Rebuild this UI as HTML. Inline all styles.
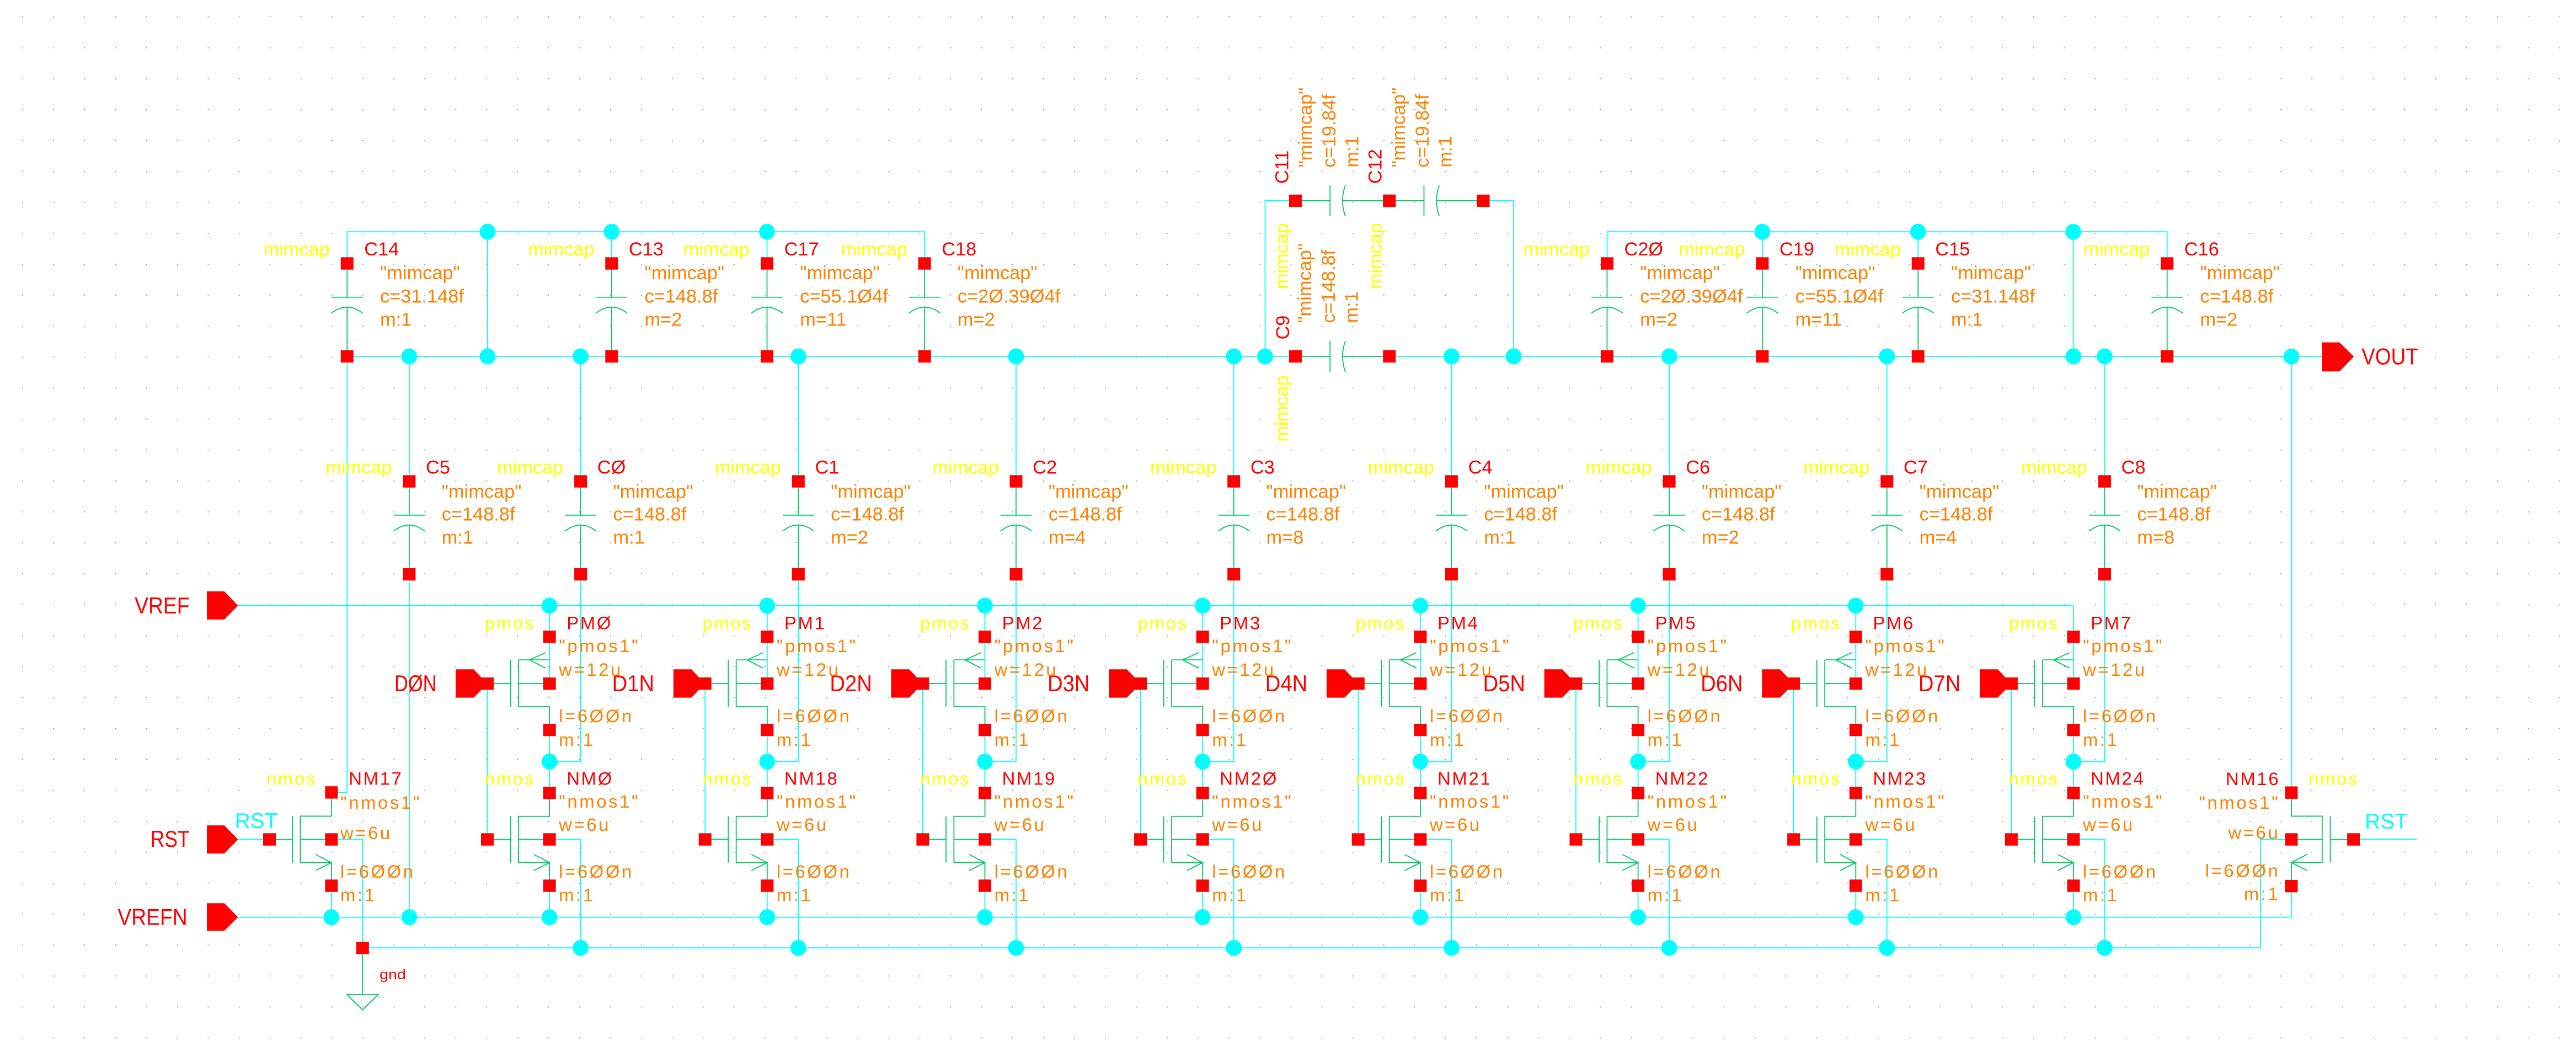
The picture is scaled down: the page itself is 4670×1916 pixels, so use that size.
<!DOCTYPE html>
<html><head><meta charset="utf-8"><style>
html,body{margin:0;padding:0;background:#fff;}
svg{display:block;}
text{font-family:"Liberation Sans",sans-serif;}
.y{fill:#ffff00;font-size:11.5px;}
.r{fill:#ff0000;font-size:11.5px;}
.o{fill:#ff8000;font-size:11.5px;}
.ty{fill:#ffff00;font-size:11px;letter-spacing:0.9px;}
.tr{fill:#ff0000;font-size:11px;letter-spacing:0.9px;}
.to{fill:#ff8000;font-size:11px;letter-spacing:1.2px;}
.pl{fill:#ff0000;font-size:14px;}
.cy{fill:#00ffff;font-size:13px;}
.cw{stroke:#00ffff;stroke-width:0.6;fill:none;}
.gw{stroke:#00c864;stroke-width:0.6;fill:none;}
</style></head><body>
<svg width="4670" height="1916" viewBox="0 0 1563 641.2" preserveAspectRatio="none" xmlns="http://www.w3.org/2000/svg">
<defs>
<pattern id="grid" x="13.45" y="9.9" width="18.77" height="18.77" patternUnits="userSpaceOnUse">
<rect x="0" y="0" width="0.6" height="0.6" fill="#8a8aa0"/>
</pattern>
<rect id="sq" x="-3.85" y="-3.75" width="7.7" height="7.5" fill="#ff0000"/>
<ellipse id="dt" rx="4.8" ry="4.85" fill="#00ffff"/>
<g id="vcap">
<path class="gw" d="M0 0 V20.5 M-9.5 20.5 H9.5 M-9.5 30.2 Q0 22.8 9.5 30.2 M0 26.5 V56.4"/>
<use href="#sq" x="0" y="0"/><use href="#sq" x="0" y="56.4"/>
</g>
<g id="hcap">
<path class="gw" d="M0 0 H21 M21 -9.4 V9.4 M30.3 -9.4 Q26.9 0 30.3 9.4 M28.6 0 H57"/>
<use href="#sq" x="0" y="0"/><use href="#sq" x="57" y="0"/>
</g>
<g id="colg">
<path class="cw" d="M-18.9 367.4 V414.7 M-18.9 442.8 V462 H0 V348.6 M0 216.2 V292 M-18.9 462 V481 M-18.9 537.3 V556.4 M-18.9 509.2 H0 V575 M-56.6 414.7 V509.2"/>
<path class="gw" d="M-37.7 400.3 H-18.9 M-31 400.3 L-21.3 395.9 M-31 400.3 L-21.3 405.3 M-37.7 414.7 H-18.9 M-37.7 428.7 H-18.9 V442.8 M-37.7 400.3 V428.7 M-42.5 400.3 V428.7 M-56.6 414.7 H-42.5 M-18.9 481 V495.2 H-37.7 V523.3 H-18.9 V537.3 M-37.7 509.2 H-18.9 M-42.5 495.2 V523.3 M-56.6 509.2 H-42.5 M-28.5 518.3 L-18.9 523.3 L-28.5 528.1"/>
<use href="#vcap" x="0" y="292"/>
<use href="#sq" x="-18.9" y="386.3"/><use href="#sq" x="-18.9" y="414.7"/><use href="#sq" x="-18.9" y="442.8"/>
<use href="#sq" x="-18.9" y="481"/><use href="#sq" x="-18.9" y="509.2"/><use href="#sq" x="-18.9" y="537.3"/>
<use href="#sq" x="-56.6" y="509.2"/>
<use href="#dt" x="-18.9" y="462"/><use href="#dt" x="-18.9" y="556.4"/><use href="#dt" x="0" y="575"/><use href="#dt" x="0" y="216.2"/>
<polygon points="-75.8,406 -64.9,406 -56.6,414.7 -64.9,423.2 -75.8,423.2" fill="#ff0000"/>
<use href="#sq" x="-56.6" y="414.7"/>
</g>
</defs>
<rect width="1563" height="641.2" fill="url(#grid)"/>

<!-- wires -->
<path class="cw" d="M210.6 159.8 V140.6 H561 V159.8 M295.8 140.6 V216.2 M371.1 140.6 V159.8 M465.4 140.6 V159.8
M975.1 159.8 V140.6 H1314.9 V159.8 M1069.3 140.6 V159.8 M1163.8 140.6 V159.8 M1258 140.6 V216.2
M210.6 216.2 H786 M843 216.2 H1408.9
M210.6 216.2 V480.7 H201.1
M248.3 216.2 V292 M248.3 348.6 V556.4
M767.6 216.2 V121.8 H786 M899.6 121.8 H918.4 V216.2
M1390.3 216.3 V480.8
M144.4 367.4 H1258.1
M144.4 556.4 H1390.3 V537.5
M220 575 H1371.6 V509.2 H1390.3
M201.1 509.2 H220 V575 M144.4 509.2 H163.5
M1428 509.2 H1466.4 M201.1 537.3 V556.4"/>

<!-- caps -->
<use href="#vcap" x="210.6" y="159.8"/><use href="#vcap" x="371.1" y="159.8"/><use href="#vcap" x="465.4" y="159.8"/><use href="#vcap" x="561" y="159.8"/>
<use href="#vcap" x="975.1" y="159.8"/><use href="#vcap" x="1069.3" y="159.8"/><use href="#vcap" x="1163.8" y="159.8"/><use href="#vcap" x="1314.9" y="159.8"/>
<use href="#vcap" x="248.3" y="292"/>
<use href="#hcap" x="786" y="121.8"/><use href="#hcap" x="843" y="121.8"/><use href="#hcap" x="786" y="216.2"/>

<!-- columns -->
<use href="#colg" x="352.3" y="0"/><use href="#colg" x="484.4" y="0"/><use href="#colg" x="616.5" y="0"/><use href="#colg" x="748.6" y="0"/>
<use href="#colg" x="880.7" y="0"/><use href="#colg" x="1012.8" y="0"/><use href="#colg" x="1144.9" y="0"/><use href="#colg" x="1277" y="0"/>
<use href="#dt" x="333.4" y="367.4"/><use href="#dt" x="465.5" y="367.4"/><use href="#dt" x="597.6" y="367.4"/><use href="#dt" x="729.7" y="367.4"/>
<use href="#dt" x="861.8" y="367.4"/><use href="#dt" x="993.9" y="367.4"/><use href="#dt" x="1126" y="367.4"/>

<!-- extra dots -->
<use href="#dt" x="248.3" y="216.2"/><use href="#dt" x="295.8" y="216.2"/><use href="#dt" x="767.6" y="216.2"/><use href="#dt" x="918.4" y="216.2"/><use href="#dt" x="1258" y="216.2"/><use href="#dt" x="1390.3" y="216.3"/>
<use href="#dt" x="295.8" y="140.6"/><use href="#dt" x="371.1" y="140.6"/><use href="#dt" x="465.4" y="140.6"/><use href="#dt" x="1069.3" y="140.6"/><use href="#dt" x="1163.8" y="140.6"/><use href="#dt" x="1258" y="140.6"/>
<use href="#dt" x="201.1" y="556.4"/><use href="#dt" x="248.3" y="556.4"/>

<!-- NM17 -->
<path class="gw" d="M201.1 480.7 V495.1 H182.2 V523.3 H201.1 V537.3 M182.2 509.2 H201.1 M177.5 495.1 V523.3 M163.5 509.2 H177.5 M191.5 518.3 L201.1 523.3 L191.5 528.1 M220 575 V603.4"/>
<polygon points="210.6,603.4 229.4,603.4 220,612.6" class="gw"/>
<use href="#sq" x="201.1" y="480.7"/><use href="#sq" x="201.1" y="509.2"/><use href="#sq" x="201.1" y="537.3"/><use href="#sq" x="163.5" y="509.2"/><use href="#sq" x="220" y="575"/>
<!-- NM16 -->
<path class="gw" d="M1390.3 480.8 V495.1 H1409 V523.2 H1390.3 V537.5 M1409 509.2 H1390.3 M1413.9 495.1 V523.2 M1413.9 509.2 H1428 M1399.9 518.3 L1390.3 523.2 L1399.9 528.1"/>
<use href="#sq" x="1390.3" y="480.8"/><use href="#sq" x="1390.3" y="509.2"/><use href="#sq" x="1390.3" y="537.5"/><use href="#sq" x="1428" y="509.2"/>

<!-- pins -->
<polygon points="125.5,358.7 136.1,358.7 144.4,367.4 136.1,375.8 125.5,375.8" fill="#ff0000"/>
<polygon points="125.5,500.7 136.1,500.7 144.4,509.2 136.1,517.8 125.5,517.8" fill="#ff0000"/>
<polygon points="125.5,547.9 136.1,547.9 144.4,556.4 136.1,564.6 125.5,564.6" fill="#ff0000"/>
<polygon points="1408.9,207.7 1419.5,207.7 1428.2,216.3 1419.5,225.3 1408.9,225.3" fill="#ff0000"/>
<text class="pl" x="81.7" y="372.2" textLength="33.3" lengthAdjust="spacingAndGlyphs">VREF</text>
<text class="pl" x="91.3" y="513.7" textLength="23.7" lengthAdjust="spacingAndGlyphs">RST</text>
<text class="pl" x="71.4" y="561" textLength="42.3" lengthAdjust="spacingAndGlyphs">VREFN</text>
<text class="pl" x="1432.9" y="221.1" textLength="34.3" lengthAdjust="spacingAndGlyphs">VOUT</text>
<text class="cy" x="142.5" y="502.4" textLength="26" lengthAdjust="spacingAndGlyphs">RST</text>
<text class="cy" x="1434.9" y="502.6" textLength="26" lengthAdjust="spacingAndGlyphs">RST</text>
<text x="230.3" y="594" style="fill:#ff0000;font-size:8.5px" textLength="16" lengthAdjust="spacingAndGlyphs">gnd</text>

<!-- D labels -->
<g class="pl">
<text x="239.3" y="419.4" textLength="25.6" lengthAdjust="spacingAndGlyphs">DØN</text>
<text x="371.4" y="419.4" textLength="25.6" lengthAdjust="spacingAndGlyphs">D1N</text>
<text x="503.5" y="419.4" textLength="25.6" lengthAdjust="spacingAndGlyphs">D2N</text>
<text x="635.6" y="419.4" textLength="25.6" lengthAdjust="spacingAndGlyphs">D3N</text>
<text x="767.7" y="419.4" textLength="25.6" lengthAdjust="spacingAndGlyphs">D4N</text>
<text x="899.8" y="419.4" textLength="25.6" lengthAdjust="spacingAndGlyphs">D5N</text>
<text x="1031.9" y="419.4" textLength="25.6" lengthAdjust="spacingAndGlyphs">D6N</text>
<text x="1164" y="419.4" textLength="25.6" lengthAdjust="spacingAndGlyphs">D7N</text>
</g>

<!-- top caps labels -->
<g text-anchor="end" class="y">
<text x="200.1" y="155">mimcap</text><text x="360.6" y="155">mimcap</text><text x="454.9" y="155">mimcap</text><text x="550.5" y="155">mimcap</text>
<text x="964.6" y="155">mimcap</text><text x="1058.8" y="155">mimcap</text><text x="1153.3" y="155">mimcap</text><text x="1304.4" y="155">mimcap</text>
<text x="237.8" y="287.3">mimcap</text><text x="341.8" y="287.3">mimcap</text><text x="473.9" y="287.3">mimcap</text><text x="606" y="287.3">mimcap</text>
<text x="738.1" y="287.3">mimcap</text><text x="870.2" y="287.3">mimcap</text><text x="1002.3" y="287.3">mimcap</text><text x="1134.4" y="287.3">mimcap</text><text x="1266.5" y="287.3">mimcap</text>
</g>
<g class="r">
<text x="221" y="155">C14</text><text x="381.5" y="155">C13</text><text x="475.8" y="155">C17</text><text x="571.4" y="155">C18</text>
<text x="985.5" y="155">C2Ø</text><text x="1079.7" y="155">C19</text><text x="1174.2" y="155">C15</text><text x="1325.3" y="155">C16</text>
<text x="258.4" y="287.3">C5</text><text x="362.4" y="287.3">CØ</text><text x="494.5" y="287.3">C1</text><text x="626.6" y="287.3">C2</text>
<text x="758.7" y="287.3">C3</text><text x="890.8" y="287.3">C4</text><text x="1022.9" y="287.3">C6</text><text x="1155" y="287.3">C7</text><text x="1287.1" y="287.3">C8</text>
</g>
<g class="o">
<text x="230.6" y="169.4">"mimcap"</text><text x="230.6" y="183.5">c=31.148f</text><text x="230.6" y="197.6">m:1</text>
<text x="391.1" y="169.4">"mimcap"</text><text x="391.1" y="183.5">c=148.8f</text><text x="391.1" y="197.6">m=2</text>
<text x="485.4" y="169.4">"mimcap"</text><text x="485.4" y="183.5">c=55.1Ø4f</text><text x="485.4" y="197.6">m=11</text>
<text x="581" y="169.4">"mimcap"</text><text x="581" y="183.5">c=2Ø.39Ø4f</text><text x="581" y="197.6">m=2</text>
<text x="995.1" y="169.4">"mimcap"</text><text x="995.1" y="183.5">c=2Ø.39Ø4f</text><text x="995.1" y="197.6">m=2</text>
<text x="1089.3" y="169.4">"mimcap"</text><text x="1089.3" y="183.5">c=55.1Ø4f</text><text x="1089.3" y="197.6">m=11</text>
<text x="1183.8" y="169.4">"mimcap"</text><text x="1183.8" y="183.5">c=31.148f</text><text x="1183.8" y="197.6">m:1</text>
<text x="1334.9" y="169.4">"mimcap"</text><text x="1334.9" y="183.5">c=148.8f</text><text x="1334.9" y="197.6">m=2</text>

<text x="268" y="302">"mimcap"</text><text x="268" y="315.8">c=148.8f</text><text x="268" y="329.8">m:1</text>
<text x="372" y="302">"mimcap"</text><text x="372" y="315.8">c=148.8f</text><text x="372" y="329.8">m:1</text>
<text x="504.1" y="302">"mimcap"</text><text x="504.1" y="315.8">c=148.8f</text><text x="504.1" y="329.8">m=2</text>
<text x="636.2" y="302">"mimcap"</text><text x="636.2" y="315.8">c=148.8f</text><text x="636.2" y="329.8">m=4</text>
<text x="768.3" y="302">"mimcap"</text><text x="768.3" y="315.8">c=148.8f</text><text x="768.3" y="329.8">m=8</text>
<text x="900.4" y="302">"mimcap"</text><text x="900.4" y="315.8">c=148.8f</text><text x="900.4" y="329.8">m:1</text>
<text x="1032.5" y="302">"mimcap"</text><text x="1032.5" y="315.8">c=148.8f</text><text x="1032.5" y="329.8">m=2</text>
<text x="1164.6" y="302">"mimcap"</text><text x="1164.6" y="315.8">c=148.8f</text><text x="1164.6" y="329.8">m=4</text>
<text x="1296.7" y="302">"mimcap"</text><text x="1296.7" y="315.8">c=148.8f</text><text x="1296.7" y="329.8">m=8</text>
</g>

<!-- rotated labels C11 C12 C9 -->
<text class="r" transform="translate(781.7,111.5) rotate(-90)">C11</text>
<text class="o" transform="translate(795.9,101.5) rotate(-90)">"mimcap"</text>
<text class="o" transform="translate(810.2,101.6) rotate(-90)">c=19.84f</text>
<text class="o" transform="translate(824.1,101.6) rotate(-90)">m:1</text>
<text class="r" transform="translate(838.3,111.5) rotate(-90)">C12</text>
<text class="o" transform="translate(852.5,101.5) rotate(-90)">"mimcap"</text>
<text class="o" transform="translate(866.8,101.6) rotate(-90)">c=19.84f</text>
<text class="o" transform="translate(880.7,101.6) rotate(-90)">m:1</text>
<text class="r" transform="translate(782.2,206) rotate(-90)">C9</text>
<text class="y" transform="translate(781.5,175.5) rotate(-90)">mimcap</text>
<text class="o" transform="translate(795.6,196) rotate(-90)">"mimcap"</text>
<text class="o" transform="translate(810,196) rotate(-90)">c=148.8f</text>
<text class="o" transform="translate(823.8,196) rotate(-90)">m:1</text>
<text class="y" transform="translate(838.3,175.5) rotate(-90)">mimcap</text>
<text class="y" transform="translate(781.5,268) rotate(-90)">mimcap</text>

<!-- transistor labels -->
<g class="ty">
<text x="294.1" y="381.6">pmos</text><text x="426.2" y="381.6">pmos</text><text x="558.3" y="381.6">pmos</text><text x="690.4" y="381.6">pmos</text>
<text x="822.5" y="381.6">pmos</text><text x="954.6" y="381.6">pmos</text><text x="1086.7" y="381.6">pmos</text><text x="1218.8" y="381.6">pmos</text>
<text x="294.1" y="476">nmos</text><text x="426.2" y="476">nmos</text><text x="558.3" y="476">nmos</text><text x="690.4" y="476">nmos</text>
<text x="822.5" y="476">nmos</text><text x="954.6" y="476">nmos</text><text x="1086.7" y="476">nmos</text><text x="1218.8" y="476">nmos</text>
<text x="161.6" y="476">nmos</text><text x="1400.7" y="476">nmos</text>
</g>
<g class="tr">
<text x="343.8" y="381.6">PMØ</text><text x="475.9" y="381.6">PM1</text><text x="608" y="381.6">PM2</text><text x="740.1" y="381.6">PM3</text>
<text x="872.2" y="381.6">PM4</text><text x="1004.3" y="381.6">PM5</text><text x="1136.4" y="381.6">PM6</text><text x="1268.5" y="381.6">PM7</text>
<text x="343.8" y="476">NMØ</text><text x="475.9" y="476">NM18</text><text x="608" y="476">NM19</text><text x="740.1" y="476">NM2Ø</text>
<text x="872.2" y="476">NM21</text><text x="1004.3" y="476">NM22</text><text x="1136.4" y="476">NM23</text><text x="1268.5" y="476">NM24</text>
<text x="211.6" y="476">NM17</text>
<text x="1383.4" y="476.3" text-anchor="end">NM16</text>
</g>
<g class="to" id="tp0">
<text x="339.1" y="395.5">"pmos1"</text><text x="339.1" y="410">w=12u</text><text x="339.1" y="438">l=6ØØn</text><text x="339.1" y="452.5">m:1</text>
<text x="339.1" y="490">"nmos1"</text><text x="339.1" y="504">w=6u</text><text x="339.1" y="532.5">l=6ØØn</text><text x="339.1" y="546.7">m:1</text>
</g>
<g class="to">
<text x="471.2" y="395.5">"pmos1"</text><text x="471.2" y="410">w=12u</text><text x="471.2" y="438">l=6ØØn</text><text x="471.2" y="452.5">m:1</text>
<text x="471.2" y="490">"nmos1"</text><text x="471.2" y="504">w=6u</text><text x="471.2" y="532.5">l=6ØØn</text><text x="471.2" y="546.7">m:1</text>
<text x="603.3" y="395.5">"pmos1"</text><text x="603.3" y="410">w=12u</text><text x="603.3" y="438">l=6ØØn</text><text x="603.3" y="452.5">m:1</text>
<text x="603.3" y="490">"nmos1"</text><text x="603.3" y="504">w=6u</text><text x="603.3" y="532.5">l=6ØØn</text><text x="603.3" y="546.7">m:1</text>
<text x="735.4" y="395.5">"pmos1"</text><text x="735.4" y="410">w=12u</text><text x="735.4" y="438">l=6ØØn</text><text x="735.4" y="452.5">m:1</text>
<text x="735.4" y="490">"nmos1"</text><text x="735.4" y="504">w=6u</text><text x="735.4" y="532.5">l=6ØØn</text><text x="735.4" y="546.7">m:1</text>
<text x="867.5" y="395.5">"pmos1"</text><text x="867.5" y="410">w=12u</text><text x="867.5" y="438">l=6ØØn</text><text x="867.5" y="452.5">m:1</text>
<text x="867.5" y="490">"nmos1"</text><text x="867.5" y="504">w=6u</text><text x="867.5" y="532.5">l=6ØØn</text><text x="867.5" y="546.7">m:1</text>
<text x="999.6" y="395.5">"pmos1"</text><text x="999.6" y="410">w=12u</text><text x="999.6" y="438">l=6ØØn</text><text x="999.6" y="452.5">m:1</text>
<text x="999.6" y="490">"nmos1"</text><text x="999.6" y="504">w=6u</text><text x="999.6" y="532.5">l=6ØØn</text><text x="999.6" y="546.7">m:1</text>
<text x="1131.7" y="395.5">"pmos1"</text><text x="1131.7" y="410">w=12u</text><text x="1131.7" y="438">l=6ØØn</text><text x="1131.7" y="452.5">m:1</text>
<text x="1131.7" y="490">"nmos1"</text><text x="1131.7" y="504">w=6u</text><text x="1131.7" y="532.5">l=6ØØn</text><text x="1131.7" y="546.7">m:1</text>
<text x="1263.8" y="395.5">"pmos1"</text><text x="1263.8" y="410">w=12u</text><text x="1263.8" y="438">l=6ØØn</text><text x="1263.8" y="452.5">m:1</text>
<text x="1263.8" y="490">"nmos1"</text><text x="1263.8" y="504">w=6u</text><text x="1263.8" y="532.5">l=6ØØn</text><text x="1263.8" y="546.7">m:1</text>
<text x="206.5" y="490.6">"nmos1"</text><text x="206.5" y="509">w=6u</text><text x="206.5" y="532.4">l=6ØØn</text><text x="206.5" y="546.6">m:1</text>
</g>
<g class="to" text-anchor="end">
<text x="1383.4" y="490.6">"nmos1"</text><text x="1383.4" y="508.8">w=6u</text><text x="1383.4" y="532">l=6ØØn</text><text x="1383.4" y="546">m:1</text>
</g>
</svg>
</body></html>
